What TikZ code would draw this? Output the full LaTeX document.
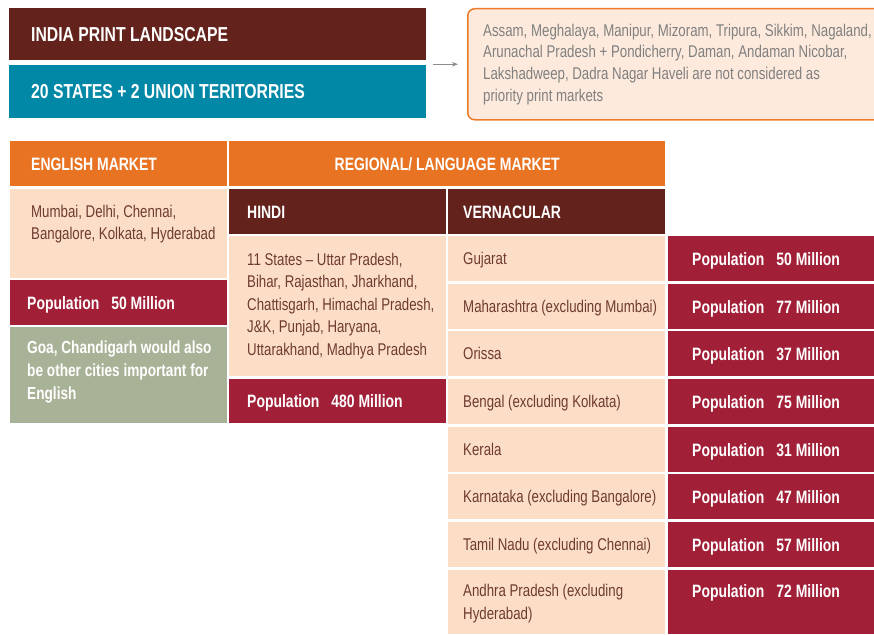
\documentclass[tikz,border=0pt]{standalone}
\usepackage{fontspec}
\setmainfont{Liberation Sans}[FakeStretch=0.78]
\usetikzlibrary{arrows.meta,positioning,calc}
\definecolor{Brown}{HTML}{63221B}
\definecolor{Teal}{HTML}{0088A6}
\definecolor{Orange}{HTML}{E87423}
\definecolor{Peach}{HTML}{FCDEC7}
\definecolor{Crimson}{HTML}{A11F37}
\definecolor{Sage}{HTML}{A8B296}
\definecolor{NoteFill}{HTML}{FDEADC}
\definecolor{NoteLine}{HTML}{EC7A2B}
\definecolor{NoteText}{HTML}{808080}
\definecolor{Body}{HTML}{6F3A30}
\definecolor{Arrow}{HTML}{8C8C8C}
\newcommand{\poptext}[1]{Population\hspace{12pt}#1 Million}
\tikzset{
  bx/.style={rectangle,anchor=north west,inner sep=0pt,minimum width=217pt,minimum height=45pt},
  tx/.style={anchor=west,inner sep=0pt,font=\fontsize{17}{22.5}\selectfont,text=Body,text height=12pt,text depth=0pt},
  txm/.style={anchor=west,inner sep=0pt,align=left,font=\fontsize{17}{22.5}\selectfont,text=Body},
  hd/.style={anchor=west,inner sep=0pt,font=\fontsize{17.9}{23}\selectfont\bfseries,text=white,text height=12.8pt,text depth=0pt},
  ttl/.style={hd,font=\fontsize{20.2}{23}\selectfont\bfseries,text height=14.4pt},
  ptr/.style={draw=Arrow,line width=0.8pt,-{Stealth[length=6pt,width=4.5pt]}},
}
\begin{document}
\begin{tikzpicture}[x=1pt,y=-1pt]
\useasboundingbox (0,0) rectangle (874,634);
% -title-
\node[bx,fill=Brown,minimum width=417pt,minimum height=52pt] (india) at (9,8) {};
\node[ttl] (indiat) at ([xshift=22pt]india.west) {INDIA PRINT LANDSCAPE};
\node[bx,fill=Teal,minimum width=417pt,minimum height=53pt] (states) at (9,65) {};
\node[ttl] (statest) at ([xshift=22pt]states.west) {20 STATES + 2 UNION TERITORRIES};
\node[bx,draw=NoteLine,line width=1.5pt,fill=NoteFill,rounded corners=7pt,minimum width=440pt,minimum height=111pt] (note) at (467,8) {};
\node[txm,text=NoteText,font=\fontsize{17}{21.7}\selectfont] (notet) at ([xshift=16pt]note.west) {Assam, Meghalaya, Manipur, Mizoram, Tripura, Sikkim, Nagaland,\\Arunachal Pradesh + Pondicherry, Daman, Andaman Nicobar,\\Lakshadweep, Dadra Nagar Haveli are not considered as\\priority print markets};
\draw[ptr,shorten <=7pt,shorten >=9pt] (india.east |- note.west) -- (note.west);
% -markets-
\node[bx,fill=Orange] (eng) at (10,141) {};
\node[hd] (engt) at ([xshift=21pt]eng.west) {ENGLISH MARKET};
\node[bx,fill=Orange,minimum width=436pt] (reg) at (229,141) {};
\node[hd,anchor=center] (regt) at (reg.center) {REGIONAL/ LANGUAGE MARKET};
% -english-
\node[bx,fill=Peach,minimum height=89pt] (city) at (10,189) {};
\node[txm,anchor=north west] (cityt) at (31,204.6) {Mumbai, Delhi, Chennai,\\Bangalore, Kolkata, Hyderabad};
\node[bx,fill=Crimson] (engpop) at (10,280) {};
\node[hd] (engpopt) at ([xshift=17pt]engpop.west) {\poptext{50}};
\node[bx,fill=Sage,minimum height=96pt] (goa) at (10,327) {};
\node[txm,font=\fontsize{17.5}{23}\selectfont\bfseries,text=white] (goat) at (27,372.5) {Goa, Chandigarh would also\\be other cities important for\\English};
% -hindi-
\node[bx,fill=Brown] (hindi) at (229,189) {};
\node[hd] (hindit) at ([xshift=18pt]hindi.west) {HINDI};
\node[bx,fill=Peach,minimum height=140pt] (hinst) at (229,236) {};
\node[txm] (hinstt) at (247,305.6) {11 States -- Uttar Pradesh,\\Bihar, Rajasthan, Jharkhand,\\Chattisgarh, Himachal Pradesh,\\J\&K, Punjab, Haryana,\\Uttarakhand, Madhya Pradesh};
\node[bx,fill=Crimson,minimum height=44pt] (hinpop) at (229,379) {};
\node[hd] (hinpopt) at ([xshift=18pt]hinpop.west) {\poptext{480}};
% -vernacular-
\node[bx,fill=Brown] (vern) at (448,189) {};
\node[hd] (vernt) at ([xshift=15pt]vern.west) {VERNACULAR};
\foreach \y/\st/\pp [count=\i] in {236/Gujarat/50,284/Maharashtra (excluding Mumbai)/77,331/Orissa/37,379/Bengal (excluding Kolkata)/75,427/Kerala/31,474/Karnataka (excluding Bangalore)/47,522/Tamil Nadu (excluding Chennai)/57}{
  \node[bx,fill=Peach] (st\i) at (448,\y) {};
  \node[tx] (stt\i) at ([xshift=15pt]st\i.west) {\st};
  \node[bx,fill=Crimson,minimum width=220pt] (pop\i) at (668,\y) {};
  \node[hd] (popt\i) at ([xshift=24pt]pop\i.west) {\poptext{\pp}};
}
\node[bx,fill=Peach,minimum height=64pt] (st8) at (448,570) {};
\node[txm] (stt8) at (463,603.6) {Andhra Pradesh (excluding\\Hyderabad)};
\node[bx,fill=Crimson,minimum width=220pt,minimum height=64pt] (pop8) at (668,570) {};
\node[hd] (popt8) at (692,591) {\poptext{72}};
\end{tikzpicture}
\end{document}
